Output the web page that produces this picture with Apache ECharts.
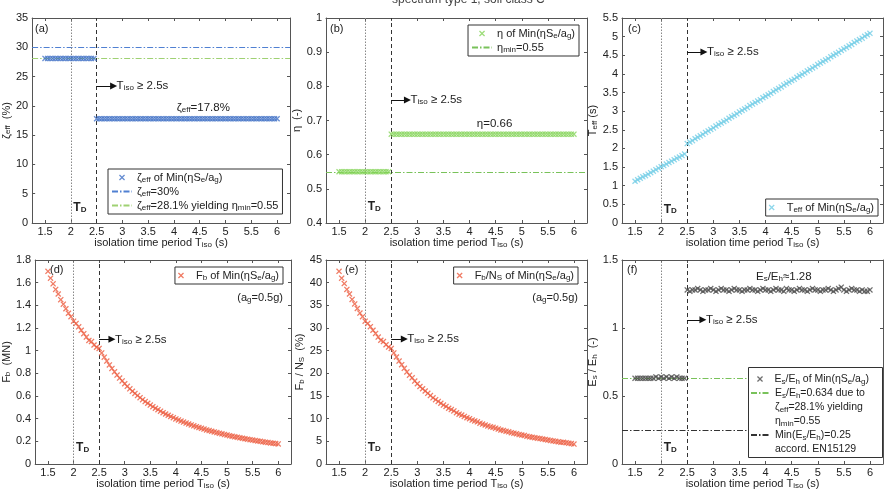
<!DOCTYPE html>
<html>
<head>
<meta charset="utf-8">
<title>spectrum type 1, soil class C</title>
<script src="https://cdn.jsdelivr.net/npm/echarts@6.0.0/dist/echarts.min.js"></script>
<style>
  html, body { margin: 0; padding: 0; background: #fff; }
  #chart { width: 889px; height: 492px; }
</style>
</head>
<body>
<div id="chart"></div>
<script>
// isolation time period T_iso (s), 0.05 s steps
const tIso = [
  1.5, 1.55, 1.6, 1.65, 1.7, 1.75, 1.8, 1.85, 1.9, 1.95,
  2, 2.05, 2.1, 2.15, 2.2, 2.25, 2.3, 2.35, 2.4, 2.45,
  2.5, 2.55, 2.6, 2.65, 2.7, 2.75, 2.8, 2.85, 2.9, 2.95,
  3, 3.05, 3.1, 3.15, 3.2, 3.25, 3.3, 3.35, 3.4, 3.45,
  3.5, 3.55, 3.6, 3.65, 3.7, 3.75, 3.8, 3.85, 3.9, 3.95,
  4, 4.05, 4.1, 4.15, 4.2, 4.25, 4.3, 4.35, 4.4, 4.45,
  4.5, 4.55, 4.6, 4.65, 4.7, 4.75, 4.8, 4.85, 4.9, 4.95,
  5, 5.05, 5.1, 5.15, 5.2, 5.25, 5.3, 5.35, 5.4, 5.45,
  5.5, 5.55, 5.6, 5.65, 5.7, 5.75, 5.8, 5.85, 5.9, 5.95,
  6
];

// (a) zeta_eff (%)
const zetaEff = [
  28.1, 28.1, 28.1, 28.1, 28.1, 28.1, 28.1, 28.1, 28.1, 28.1,
  28.1, 28.1, 28.1, 28.1, 28.1, 28.1, 28.1, 28.1, 28.1, 28.1,
  17.8, 17.8, 17.8, 17.8, 17.8, 17.8, 17.8, 17.8, 17.8, 17.8,
  17.8, 17.8, 17.8, 17.8, 17.8, 17.8, 17.8, 17.8, 17.8, 17.8,
  17.8, 17.8, 17.8, 17.8, 17.8, 17.8, 17.8, 17.8, 17.8, 17.8,
  17.8, 17.8, 17.8, 17.8, 17.8, 17.8, 17.8, 17.8, 17.8, 17.8,
  17.8, 17.8, 17.8, 17.8, 17.8, 17.8, 17.8, 17.8, 17.8, 17.8,
  17.8, 17.8, 17.8, 17.8, 17.8, 17.8, 17.8, 17.8, 17.8, 17.8,
  17.8, 17.8, 17.8, 17.8, 17.8, 17.8, 17.8, 17.8, 17.8, 17.8,
  17.8
];

// (b) eta (-)
const etaVal = [
  0.55, 0.55, 0.55, 0.55, 0.55, 0.55, 0.55, 0.55, 0.55, 0.55,
  0.55, 0.55, 0.55, 0.55, 0.55, 0.55, 0.55, 0.55, 0.55, 0.55,
  0.66, 0.66, 0.66, 0.66, 0.66, 0.66, 0.66, 0.66, 0.66, 0.66,
  0.66, 0.66, 0.66, 0.66, 0.66, 0.66, 0.66, 0.66, 0.66, 0.66,
  0.66, 0.66, 0.66, 0.66, 0.66, 0.66, 0.66, 0.66, 0.66, 0.66,
  0.66, 0.66, 0.66, 0.66, 0.66, 0.66, 0.66, 0.66, 0.66, 0.66,
  0.66, 0.66, 0.66, 0.66, 0.66, 0.66, 0.66, 0.66, 0.66, 0.66,
  0.66, 0.66, 0.66, 0.66, 0.66, 0.66, 0.66, 0.66, 0.66, 0.66,
  0.66, 0.66, 0.66, 0.66, 0.66, 0.66, 0.66, 0.66, 0.66, 0.66,
  0.66
];

// (c) T_eff (s)
const tEff = [
  1.12, 1.16, 1.20, 1.24, 1.27, 1.31, 1.35, 1.39, 1.43, 1.47,
  1.51, 1.54, 1.58, 1.62, 1.66, 1.70, 1.74, 1.77, 1.81, 1.85,
  2.13, 2.17, 2.21, 2.26, 2.30, 2.34, 2.38, 2.43, 2.47, 2.51,
  2.55, 2.60, 2.64, 2.68, 2.72, 2.76, 2.81, 2.85, 2.89, 2.93,
  2.98, 3.02, 3.06, 3.10, 3.15, 3.19, 3.23, 3.27, 3.31, 3.36,
  3.40, 3.44, 3.48, 3.53, 3.57, 3.61, 3.65, 3.70, 3.74, 3.78,
  3.82, 3.86, 3.91, 3.95, 3.99, 4.03, 4.08, 4.12, 4.16, 4.20,
  4.25, 4.29, 4.33, 4.37, 4.41, 4.46, 4.50, 4.54, 4.58, 4.63,
  4.67, 4.71, 4.75, 4.79, 4.84, 4.88, 4.92, 4.96, 5.01, 5.05,
  5.09
];

// (d) F_b (MN)
const fB = [
  1.70, 1.64, 1.59, 1.54, 1.50, 1.45, 1.41, 1.37, 1.33, 1.30,
  1.26, 1.24, 1.21, 1.18, 1.15, 1.12, 1.09, 1.08, 1.05, 1.03,
  1.02, 0.980, 0.943, 0.908, 0.874, 0.843, 0.813, 0.785, 0.758, 0.733,
  0.708, 0.685, 0.663, 0.642, 0.623, 0.604, 0.585, 0.568, 0.551, 0.536,
  0.520, 0.506, 0.492, 0.479, 0.466, 0.453, 0.441, 0.430, 0.419, 0.409,
  0.398, 0.389, 0.379, 0.370, 0.361, 0.353, 0.345, 0.337, 0.329, 0.322,
  0.315, 0.308, 0.301, 0.295, 0.289, 0.283, 0.277, 0.271, 0.266, 0.260,
  0.255, 0.250, 0.245, 0.240, 0.236, 0.231, 0.227, 0.223, 0.219, 0.215,
  0.211, 0.207, 0.203, 0.200, 0.196, 0.193, 0.190, 0.186, 0.183, 0.180,
  0.177
];

// (e) F_b / N_S (%)
const fbNs = [
  42.5, 41.0, 39.8, 38.5, 37.5, 36.3, 35.3, 34.3, 33.3, 32.5,
  31.5, 31.0, 30.3, 29.5, 28.8, 28.0, 27.3, 27.0, 26.3, 25.8,
  25.5, 24.5, 23.6, 22.7, 21.9, 21.1, 20.3, 19.6, 19.0, 18.3,
  17.7, 17.1, 16.6, 16.1, 15.6, 15.1, 14.6, 14.2, 13.8, 13.4,
  13.0, 12.7, 12.3, 12.0, 11.7, 11.3, 11.0, 10.8, 10.5, 10.2,
  10.0, 9.7, 9.5, 9.3, 9.0, 8.8, 8.6, 8.4, 8.2, 8.1,
  7.9, 7.7, 7.5, 7.4, 7.2, 7.1, 6.9, 6.8, 6.7, 6.5,
  6.4, 6.3, 6.1, 6.0, 5.9, 5.8, 5.7, 5.6, 5.5, 5.4,
  5.3, 5.2, 5.1, 5.0, 4.9, 4.8, 4.8, 4.7, 4.6, 4.5,
  4.4
];

// (f) E_s / E_h (-)
const esEh = [
  0.63, 0.63, 0.63, 0.63, 0.63, 0.63, 0.63, 0.63, 0.64, 0.63,
  0.64, 0.63, 0.64, 0.63, 0.64, 0.63, 0.64, 0.63, 0.63, 0.63,
  1.28, 1.27, 1.28, 1.28, 1.29, 1.28, 1.27, 1.28, 1.28, 1.29,
  1.28, 1.27, 1.28, 1.29, 1.28, 1.28, 1.27, 1.28, 1.29, 1.28,
  1.28, 1.27, 1.28, 1.28, 1.29, 1.28, 1.28, 1.27, 1.28, 1.29,
  1.28, 1.28, 1.27, 1.28, 1.29, 1.28, 1.28, 1.27, 1.29, 1.28,
  1.28, 1.27, 1.28, 1.29, 1.28, 1.28, 1.27, 1.28, 1.29, 1.28,
  1.28, 1.27, 1.28, 1.28, 1.29, 1.28, 1.27, 1.28, 1.29, 1.30,
  1.28, 1.27, 1.28, 1.29, 1.28, 1.28, 1.27, 1.28, 1.27, 1.27,
  1.28
];

// reference values
const tD = 2;
const tIsoLimit = 2.5;
const zetaLimit = 30;
const zetaYield = 28.1;
const etaMin = 0.55;
const esEhYield = 0.634;
const esEhMin = 0.25;

const FONT = '"Liberation Sans", Arial, Helvetica, sans-serif';
const TXT = '#222';
const AX = '#555';
const DASHDOT = [6, 2, 1.5, 2];
const X_SYMBOL = 'path://M0,1.5L1.5,0L5,3.5L8.5,0L10,1.5L6.5,5L10,8.5L8.5,10L5,6.5L1.5,10L0,8.5L3.5,5Z';
const RICH = {
  s: { fontSize: 8, lineHeight: 7, verticalAlign: 'bottom', color: TXT, fontFamily: FONT },
  tb: { fontSize: 12, fontWeight: 'bold', color: TXT, fontFamily: FONT },
  tbs: { fontSize: 8, lineHeight: 7, verticalAlign: 'bottom', fontWeight: 'bold', color: TXT, fontFamily: FONT }
};

const grids = [
  { left: 30, top: 18, width: 260, height: 205 },
  { left: 326, top: 18, width: 261, height: 205 },
  { left: 622, top: 18, width: 261, height: 205 },
  { left: 30, top: 260, width: 261, height: 204 },
  { left: 326, top: 260, width: 261, height: 204 },
  { left: 622, top: 260, width: 261, height: 204 }
];

const panels = [
  { markName: 'zetaMark', values: zetaEff, color: '#4070c6', yMin: 0, yMax: 35, yStep: 5,
    yName: 'ζ{s|eff}  (%)', yGap: 16, tdY: 2.6, arrowY: 23.4, arrowEnd: 2.83,
    note: { x: 4.57, y: 19.7, text: 'ζ{s|eff}=17.8%' },
    refs: [{ name: 'zetaLimit', value: zetaLimit, color: '#5080d2' },
           { name: 'zetaYield', value: zetaYield, color: '#9fd173' }] },
  { markName: 'etaMark', values: etaVal, color: '#86d45a', yMin: 0.4, yMax: 1, yStep: 0.1,
    yName: 'η  (-)', yGap: 21, tdY: 0.447, arrowY: 0.76, arrowEnd: 2.81,
    note: { x: 4.48, y: 0.69, text: 'η=0.66' },
    refs: [{ name: 'etaMin', value: etaMin, color: '#79c25a' }] },
  { markName: 'tEffMark', values: tEff, color: '#72cde6', yMin: 0, yMax: 5.5, yStep: 0.5,
    yName: 'T{s|eff} (s)', yGap: 15, tdY: 0.37, arrowY: 4.59, arrowEnd: 2.82, refs: [] },
  { markName: 'fbMark', values: fB, color: '#ec5b3e', yMin: 0, yMax: 1.8, yStep: 0.2,
    yName: 'F{s|b}  (MN)', yGap: 16, tdY: 0.14, arrowY: 1.10, arrowEnd: 2.75, refs: [] },
  { markName: 'fbNsMark', values: fbNs, color: '#ec5b3e', yMin: 0, yMax: 45, yStep: 5,
    yName: 'F{s|b} / N{s|S}  (%)', yGap: 16, tdY: 3.7, arrowY: 27.6, arrowEnd: 2.75, refs: [] },
  { markName: 'esEhMark', values: esEh, color: '#4a4a4a', yMin: 0, yMax: 1.5, yStep: 0.5,
    yName: 'E{s|s} / E{s|h}  (-)', yGap: 17, tdY: 0.12, arrowY: 1.06, arrowEnd: 2.8,
    note: { x: 4.35, y: 1.375, text: 'E{s|s}/E{s|h}≈1.28' },
    refs: [{ name: 'esEhYield', value: esEhYield, color: '#79c25a' },
           { name: 'esEhMin', value: esEhMin, color: '#333' }] }
];

const legendText = {
  zetaMark: 'ζ{s|eff} of Min(ηS{s|e}/a{s|g})',
  zetaLimit: 'ζ{s|eff}=30%',
  zetaYield: 'ζ{s|eff}=28.1% yielding η{s|min}=0.55',
  etaMark: 'η of Min(ηS{s|e}/a{s|g})',
  etaMin: 'η{s|min}=0.55',
  tEffMark: 'T{s|eff} of Min(ηS{s|e}/a{s|g})',
  fbMark: 'F{s|b} of Min(ηS{s|e}/a{s|g})',
  fbNsMark: 'F{s|b}/N{s|S} of Min(ηS{s|e}/a{s|g})',
  esEhMark: 'E{s|s}/E{s|h} of Min(ηS{s|e}/a{s|g})',
  esEhYield: 'E{s|s}/E{s|h}=0.634 due to\nζ{s|eff}=28.1% yielding\nη{s|min}=0.55',
  esEhMin: 'Min(E{s|s}/E{s|h})=0.25\naccord. EN15129'
};

const axLine = { show: true, onZero: false, lineStyle: { color: AX, width: 1 } };
const axTick = { show: true, inside: true, length: 3, lineStyle: { color: AX } };
const xAxes = [], yAxes = [], series = [];

panels.forEach((p, g) => {
  xAxes.push({
    gridIndex: g, type: 'value', position: 'bottom', min: 1.25, max: 6.25, splitNumber: 10,
    axisLine: axLine, axisTick: axTick, splitLine: { show: false },
    axisLabel: { showMinLabel: false, showMaxLabel: false, margin: 3, fontSize: 11, color: TXT, fontFamily: FONT },
    name: 'isolation time period T{s|iso} (s)', nameLocation: 'middle', nameGap: 11,
    nameTextStyle: { fontSize: 11, color: TXT, fontFamily: FONT, rich: RICH }
  });
  xAxes.push({
    gridIndex: g, type: 'value', position: 'top', min: 1.25, max: 6.25, splitNumber: 10,
    axisLine: axLine, axisTick: axTick, splitLine: { show: false }, axisLabel: { show: false }
  });
  yAxes.push({
    gridIndex: g, type: 'value', position: 'left', min: p.yMin, max: p.yMax, interval: p.yStep,
    axisLine: axLine, axisTick: axTick, splitLine: { show: false },
    axisLabel: { margin: 4, fontSize: 11, color: TXT, fontFamily: FONT },
    name: p.yName, nameLocation: 'middle', nameGap: p.yGap,
    nameTextStyle: { fontSize: 11, color: TXT, fontFamily: FONT, rich: RICH }
  });
  yAxes.push({
    gridIndex: g, type: 'value', position: 'right', min: p.yMin, max: p.yMax, interval: p.yStep,
    axisLine: axLine, axisTick: axTick, splitLine: { show: false }, axisLabel: { show: false }
  });

  p.refs.forEach(r => {
    series.push({
      name: r.name, type: 'line', xAxisIndex: 2 * g, yAxisIndex: 2 * g, data: [],
      symbol: 'none', silent: true, animation: false, z: 2,
      itemStyle: { color: r.color },
      lineStyle: { color: r.color, width: 1, type: DASHDOT },
      markLine: {
        silent: true, animation: false, symbol: ['none', 'none'], label: { show: false }, z: 2,
        lineStyle: { color: r.color, width: 1, type: DASHDOT },
        data: [{ yAxis: r.value }]
      }
    });
  });

  const points = [
    { coord: [tD, p.tdY], label: { show: true, position: 'right', distance: 2, formatter: '{tb|T}{tbs|D}', rich: RICH } }
  ];
  if (p.note) {
    points.push({ coord: [p.note.x, p.note.y], label: { show: true, position: 'inside', formatter: p.note.text,
      fontSize: 11.5, color: TXT, fontFamily: FONT, rich: RICH } });
  }

  series.push({
    name: p.markName, type: 'scatter', xAxisIndex: 2 * g, yAxisIndex: 2 * g,
    data: tIso.map((t, i) => [t, p.values[i]]),
    symbol: X_SYMBOL, symbolSize: 6, itemStyle: { color: p.color },
    z: 3, silent: true, animation: false,
    markLine: {
      silent: true, animation: false, symbol: ['none', 'none'], label: { show: false }, z: 2,
      data: [
        { xAxis: tD, lineStyle: { type: [1.5, 1.5], color: '#888', width: 1 } },
        { xAxis: tIsoLimit, lineStyle: { type: [4, 3], color: '#333', width: 1 } },
        [
          { coord: [tIsoLimit, p.arrowY], symbol: 'none',
            lineStyle: { type: 'solid', color: '#111', width: 1 },
            label: { show: true, position: 'end', distance: 3, formatter: 'T{s|iso} ≥ 2.5s',
              fontSize: 11.5, color: TXT, fontFamily: FONT, rich: RICH } },
          { coord: [p.arrowEnd, p.arrowY], symbol: 'triangle', symbolSize: 7 }
        ]
      ]
    },
    markPoint: {
      silent: true, animation: false, symbol: 'circle', symbolSize: 1,
      itemStyle: { color: 'rgba(0,0,0,0)' },
      data: points
    }
  });
});

const legendBase = {
  orient: 'vertical', itemWidth: 20, itemHeight: 6, itemGap: 1, padding: [2, 4, 2, 3],
  borderColor: '#333', borderWidth: 1, backgroundColor: '#fff', selectedMode: false, z: 9,
  textStyle: { fontSize: 11, lineHeight: 13, color: TXT, fontFamily: FONT, rich: RICH },
  formatter: n => legendText[n]
};
const lineItem = n => ({ name: n, itemStyle: { opacity: 0 } });
const legendF = (n, left, top, pad, isLine) => Object.assign({}, legendBase, {
  left: left, top: top, padding: 0, borderWidth: 0, backgroundColor: 'transparent', z: 10,
  itemWidth: 19,
  textStyle: { fontSize: 10.5, lineHeight: 14, color: TXT, fontFamily: FONT, rich: RICH, padding: [pad, 0, 0, 0] },
  data: [isLine ? lineItem(n) : n]
});

const legends = [
  Object.assign({}, legendBase, { left: 108, top: 169, data: ['zetaMark', lineItem('zetaLimit'), lineItem('zetaYield')] }),
  Object.assign({}, legendBase, { right: 310, top: 25, data: ['etaMark', lineItem('etaMin')] }),
  Object.assign({}, legendBase, { right: 11, top: 199, data: ['tEffMark'] }),
  Object.assign({}, legendBase, { right: 606, top: 267, data: ['fbMark'] }),
  Object.assign({}, legendBase, { right: 311, top: 267, data: ['fbNsMark'] }),
  legendF('esEhMark', 757, 372, 0, false),
  legendF('esEhYield', 750, 358, 28, true),
  legendF('esEhMin', 750, 414, 14, true)
];

const panelTags = [
  { t: '(a)', x: 35, y: 29 }, { t: '(b)', x: 330, y: 29 }, { t: '(c)', x: 628, y: 29 },
  { t: '(d)', x: 50, y: 270 }, { t: '(e)', x: 345, y: 270 }, { t: '(f)', x: 627, y: 270 }
];
const graphics = panelTags.map(d => ({
  type: 'text', x: d.x, y: d.y, z: 20,
  style: { text: d.t, fill: TXT, font: '11px ' + FONT, verticalAlign: 'middle' }
}));
[283, 578].forEach(x => graphics.push({
  type: 'text', x: x, y: 298, z: 20,
  style: { text: '(a{s|g}=0.5g)', fill: TXT, font: '11px ' + FONT, align: 'right', verticalAlign: 'middle', rich: RICH }
}));
graphics.push({
  type: 'rect', z: 8, shape: { x: 748.5, y: 367.5, width: 134, height: 90 },
  style: { fill: '#fff', stroke: '#333', lineWidth: 1 }
});

const chart = echarts.init(document.getElementById('chart'), null, { renderer: 'canvas' });
chart.setOption({
  animation: false,
  backgroundColor: '#fff',
  textStyle: { fontFamily: FONT },
  title: {
    text: 'spectrum type 1, soil class C', left: 387, top: -11,
    textStyle: { fontSize: 12, fontWeight: 'normal', color: '#444', fontFamily: FONT }
  },
  grid: grids,
  xAxis: xAxes,
  yAxis: yAxes,
  legend: legends,
  graphic: graphics,
  series: series
});
</script>
</body>
</html>
